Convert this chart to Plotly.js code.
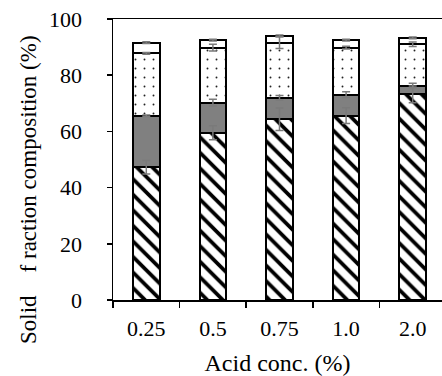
<!DOCTYPE html>
<html>
<head>
<meta charset="utf-8">
<script src="https://cdn.plot.ly/plotly-3.0.1.min.js"></script>
<style>
html,body{margin:0;padding:0;background:#fff;}
#chart{width:442px;height:376px;}
</style>
</head>
<body>
<div id="chart"></div>
<script>
// Data
const categories = ["0.25", "0.5", "0.75", "1.0", "2.0"];
const seg1 = [47.2, 59.5, 64.3, 65.6, 73.2];   // hatched (bottom)
const seg2 = [18.3, 10.7, 7.7, 7.5, 3.1];      // gray
const seg3 = [22.3, 19.6, 19.6, 16.7, 14.7];   // dotted
const seg4 = [3.8, 2.7, 2.4, 2.7, 2.3];        // white (top)
const err1 = [2.4, 2.5, 4.0, 2.8, 3.0];
const err2 = [0.3, 1.2, 0.8, 1.0, 0.8];
const err3 = [0.3, 1.2, 2.1, 0.5, 0.8];
const err4 = [0.3, 0.3, 0.3, 0.3, 0.3];
const yTicks = [0, 20, 40, 60, 80, 100];

const segs = [seg1, seg2, seg3, seg4];
const errs = [err1, err2, err3, err4];

const line = {color: "#000", width: 2};
const styles = [
  {color: "#fff", line: line, pattern: {shape: "\\", size: 11, solidity: 0.34, fgcolor: "#000", bgcolor: "#fff", fillmode: "replace"}},
  {color: "#808080", line: line},
  {color: "#fff", line: line, pattern: {shape: ".", size: 9, solidity: 0.035, fgcolor: "#222", bgcolor: "#fff", fillmode: "replace"}},
  {color: "#fff", line: line}
];

const traces = segs.map((s, i) => ({
  type: "bar", x: categories, y: s, marker: styles[i],
  hoverinfo: "skip", showlegend: false
}));

// error bars at the top of each stacked segment, drawn above all bars
let cum = categories.map(() => 0);
segs.forEach((s, i) => {
  cum = cum.map((c, j) => c + s[j]);
  traces.push({
    type: "scatter", mode: "markers", x: categories, y: cum.slice(),
    marker: {size: 1, opacity: 0},
    error_y: {type: "data", array: errs[i], visible: true, color: "#7a7a7a", thickness: 1.5, width: 4},
    hoverinfo: "skip", showlegend: false
  });
});

const font = {family: "Liberation Serif, Times New Roman, serif", color: "#000"};

const layout = {
  width: 442, height: 376,
  margin: {l: 113, r: 0, t: 19, b: 76, pad: 0},
  paper_bgcolor: "#fff", plot_bgcolor: "#fff",
  barmode: "stack", bargap: 0.6,
  xaxis: {
    type: "category", range: [-0.5, 4.44],
    showline: true, linecolor: "#000", linewidth: 1.5, mirror: true,
    ticks: "outside", tickson: "boundaries", ticklen: 6, tickwidth: 1.5, tickcolor: "#000",
    showgrid: false, zeroline: false,
    tickfont: Object.assign({size: 22}, font), ticklabelstandoff: 8,
    title: {text: "Acid conc. (%)", font: Object.assign({size: 24}, font), standoff: 14}
  },
  yaxis: {
    range: [0, 100], tickvals: yTicks, ticktext: yTicks.map(String),
    showline: true, linecolor: "#000", linewidth: 1.5,
    ticks: "outside", ticklen: 5, tickwidth: 1.5, tickcolor: "#000",
    showgrid: false, zeroline: false,
    tickfont: Object.assign({size: 22}, font), ticklabelstandoff: 20
  },
  annotations: [{
    text: "Solid\u00a0\u00a0\u00a0 f raction composition (%)",
    xref: "paper", yref: "paper",
    x: (29 - 113) / 329, y: (300 - 190) / 281,
    xanchor: "center", yanchor: "middle", textangle: -90, showarrow: false,
    font: Object.assign({size: 23}, font)
  }]
};

Plotly.newPlot("chart", traces, layout, {displayModeBar: false, staticPlot: true});
</script>
</body>
</html>
